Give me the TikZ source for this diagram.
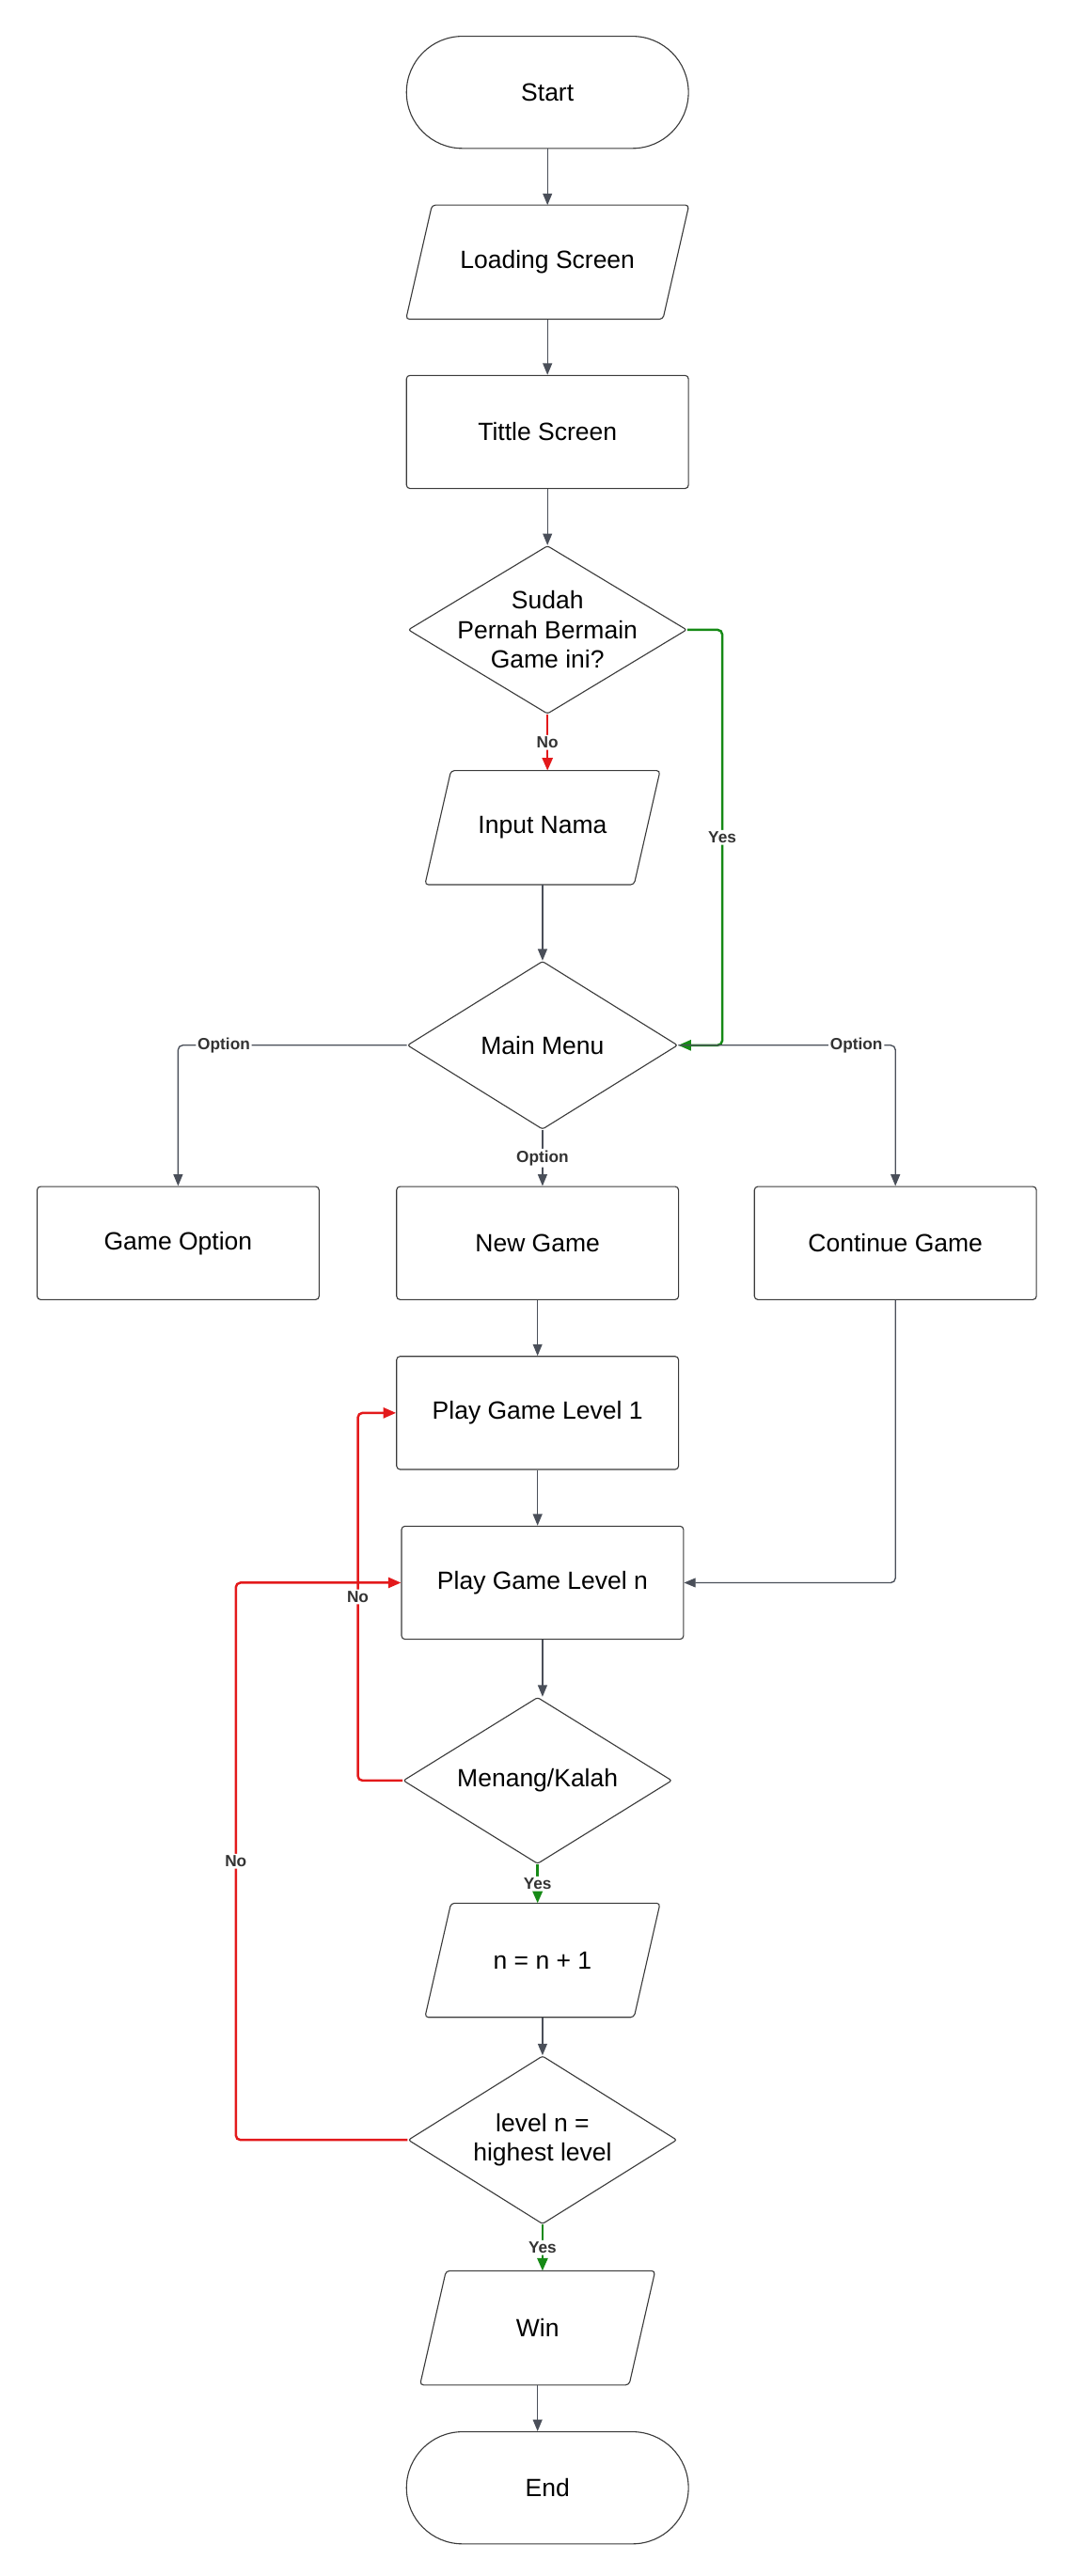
\documentclass[tikz,border=0pt]{standalone}
\usepackage{fontspec}
\setmainfont{Liberation Sans}
\usetikzlibrary{shapes.geometric,arrows.meta}

\definecolor{edge}{HTML}{4A4F59}
\definecolor{border}{HTML}{3A3A3A}
\definecolor{nored}{HTML}{E3191B}
\definecolor{yesgreen}{HTML}{168A16}
\definecolor{lbltext}{HTML}{333333}

\tikzset{
    base/.style={draw=border, line width=0.9pt, fill=white, align=center,
        font=\fontsize{21.5}{25.5}\selectfont, inner sep=2pt},
    terminal/.style={base, rectangle, rounded corners=1.7cm,
        minimum width=8.55cm, minimum height=3.4cm},
    process/.style={base, rectangle, rounded corners=3pt,
        minimum width=8.55cm, minimum height=3.43cm},
    io/.style={base, draw=none, fill=none, rectangle,
        minimum width=#1, minimum height=3.43cm},
    ioline/.style={draw=border, line width=0.9pt, rounded corners=3pt},
    decision/.style={base, diamond, aspect=1.66, inner sep=0pt, rounded corners=2pt},
    line/.style={draw=edge, line width=1.1pt, rounded corners=4pt,
        -{Triangle[width=8pt,length=10pt]}},
    redline/.style={line, draw=nored, line width=2pt, -{Triangle[width=9pt,length=11pt,fill=nored]}},
    greenline/.style={line, draw=yesgreen, line width=2pt, -{Triangle[width=9pt,length=11pt,fill=yesgreen]}},
    lbl/.style={fill=white, text=lbltext, inner sep=1.5pt,
        font=\fontsize{14}{16}\selectfont\bfseries},
}

\begin{document}
\begin{tikzpicture}[x=0.05cm, y=-0.05cm]
    \useasboundingbox (0,0) rectangle (650,1562.5);

    % main column
    \node[terminal] (start) at (332,56) {Start};
    \node[io=8.55cm] (load) at (332,159) {Loading Screen};
    \node[process] (title) at (332,262) {Tittle Screen};
    \node[decision, inner sep=-6.5pt, minimum width=8.45cm, minimum height=5.1cm] (ask) at (332,382)
        {Sudah\\Pernah Bermain\\Game ini?};
    \node[io=7.1cm] (nama) at (329,502) {Input Nama};
    \node[decision, minimum width=8.2cm, minimum height=5.1cm] (menu) at (329,634) {Main Menu};

    % menu options
    \node[process] (opt) at (108,754) {Game Option};
    \node[process] (new) at (326,754) {New Game};
    \node[process] (cont) at (543,754) {Continue Game};

    % game loop
    \node[process] (lvl1) at (326,857) {Play Game Level 1};
    \node[process] (lvln) at (329,960) {Play Game Level n};
    \node[decision, minimum width=8.15cm, minimum height=5.05cm] (cek) at (326,1080) {Menang/Kalah};
    \node[io=7.1cm] (inc) at (329,1189) {n = n + 1};
    \node[decision, minimum width=8.15cm, minimum height=5.1cm] (high) at (329,1298)
        {level n =\\highest level};
    \node[io=7.1cm] (win) at (326,1412) {Win};
    \node[terminal] (end) at (332,1509) {End};

    % slanted outlines of the input/output boxes
    \foreach \n in {load,nama,inc,win}
        \draw[ioline] ([xshift=0.79cm]\n.north west) -- (\n.north east)
            -- ([xshift=-0.79cm]\n.south east) -- (\n.south west) -- cycle;

    \coordinate (yes) at (438,634);
    \coordinate (loop1) at (217,857);
    \coordinate (loop2) at (143,960);

    \draw[line] (start) -- (load);
    \draw[line] (load) -- (title);
    \draw[line] (title) -- (ask);
    \draw[redline] (ask.south) -- node[lbl] {No} (ask.south |- nama.north);
    \draw[greenline] (ask.east) -| node[lbl, pos=0.75] {Yes} (yes) -- (menu.east);
    \draw[line] (nama.south) -- (nama.south |- menu.north);

    \draw[line] (menu.west) -| node[lbl, pos=0.4] {Option} (opt.north);
    \draw[line] (menu.east) -| node[lbl, pos=0.41] {Option} (cont.north);
    \draw[line] (menu.south) -- node[lbl] {Option} (menu.south |- new.north);

    \draw[line] (new) -- (lvl1);
    \draw[line] (cont.south) |- (lvln.east);
    \draw[line] (lvl1.south) -- (lvl1.south |- lvln.north);
    \draw[line] (lvln.south) -- (lvln.south |- cek.north);
    \draw[redline] (cek.west) -| node[lbl, pos=0.75] {No} (loop1) -- (lvl1.west);
    \draw[greenline] (cek.south) -- node[lbl] {Yes} (cek.south |- inc.north);
    \draw[line] (inc.south) -- (inc.south |- high.north);
    \draw[redline] (high.west) -| node[lbl, pos=0.75] {No} (loop2) -- (lvln.west);
    \draw[greenline] (high.south) -- node[lbl] {Yes} (high.south |- win.north);
    \draw[line] (win.south) -- (win.south |- end.north);
\end{tikzpicture}
\end{document}
